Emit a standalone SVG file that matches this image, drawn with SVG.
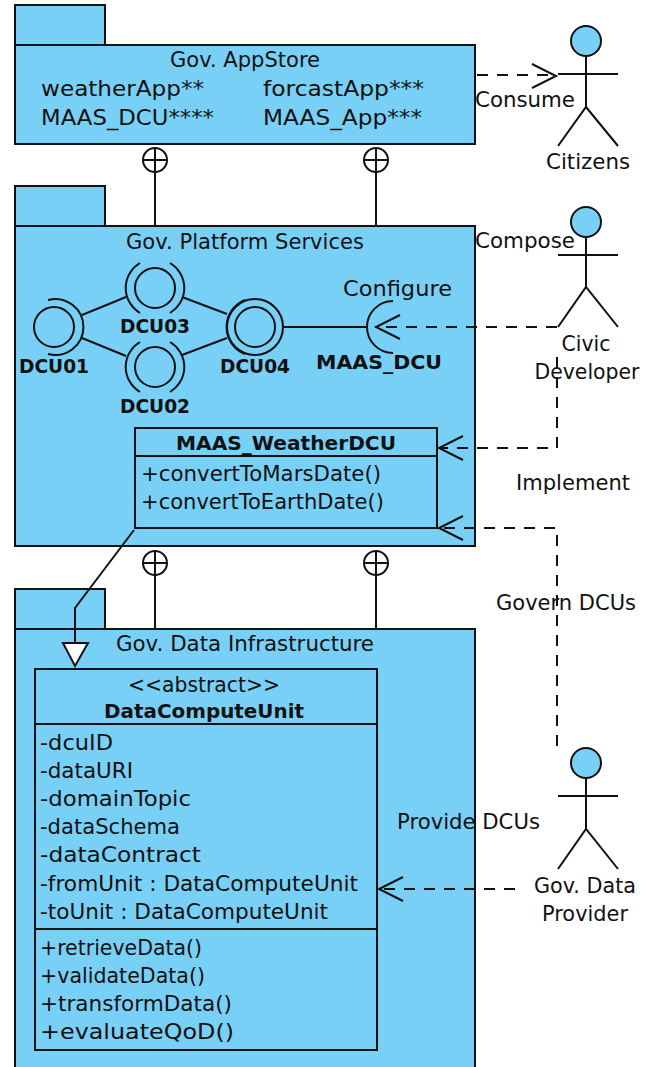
<svg xmlns="http://www.w3.org/2000/svg" width="650" height="1067" viewBox="0 0 650 1067">
<style>
text{font-family:"DejaVu Sans","Liberation Sans",sans-serif;font-size:22px;fill:#111}
.m{text-anchor:middle}
.b{font-weight:bold;font-size:20px}
.s{fill:#79d0f7;stroke:#111;stroke-width:2}
.l{fill:none;stroke:#111;stroke-width:2}
.d{fill:none;stroke:#111;stroke-width:2;stroke-dasharray:11 9}
</style>
<rect width="650" height="1067" fill="#fff"/>
<g id="pkg-appstore">
<rect class="s" x="15" y="5" width="90" height="40"/><rect class="s" x="15" y="45" width="460" height="99"/>
<text class="m" x="245" y="67" textLength="150" lengthAdjust="spacingAndGlyphs">Gov. AppStore</text>
<text x="41" y="96" textLength="163" lengthAdjust="spacingAndGlyphs">weatherApp**</text><text x="263" y="96" textLength="161" lengthAdjust="spacingAndGlyphs">forcastApp***</text>
<text x="41" y="125" textLength="173" lengthAdjust="spacingAndGlyphs">MAAS_DCU****</text><text x="263" y="125" textLength="159" lengthAdjust="spacingAndGlyphs">MAAS_App***</text>
</g>
<g id="pkg-platform">
<rect class="s" x="15" y="186" width="90" height="40"/><rect class="s" x="15" y="226" width="460" height="320"/>
<text class="m" x="245" y="249" textLength="238" lengthAdjust="spacingAndGlyphs">Gov. Platform Services</text>
<text x="343" y="296" textLength="109" lengthAdjust="spacingAndGlyphs">Configure</text>
</g>
<g id="pkg-data">
<rect class="s" x="15" y="589" width="90" height="40"/><rect class="s" x="15" y="629" width="460" height="445"/>
<text class="m" x="245" y="651" textLength="258" lengthAdjust="spacingAndGlyphs">Gov. Data Infrastructure</text>
</g>
<g id="dcu01"><circle class="l" cx="54" cy="327" r="20"/><path class="l" d="M48 300A28 28 0 1 1 48 354"/><text class="b m" x="54" y="373" textLength="70" lengthAdjust="spacingAndGlyphs">DCU01</text></g>
<g id="dcu03"><circle class="l" cx="155" cy="288" r="20"/><path class="l" d="M140 263A29 29 0 0 0 140 313M170 263A29 29 0 0 1 170 313"/><text class="b m" x="155" y="333" textLength="70" lengthAdjust="spacingAndGlyphs">DCU03</text></g>
<g id="dcu02"><circle class="l" cx="155" cy="367" r="20"/><path class="l" d="M140 342A29 29 0 0 0 140 392M170 342A29 29 0 0 1 170 392"/><text class="b m" x="155" y="413" textLength="70" lengthAdjust="spacingAndGlyphs">DCU02</text></g>
<g id="dcu04"><circle class="l" cx="255" cy="327" r="20"/><circle class="l" cx="255" cy="327" r="28"/><path class="l" d="M245 354A29 29 0 0 1 245 300"/><text class="b m" x="255" y="373" textLength="70" lengthAdjust="spacingAndGlyphs">DCU04</text></g>
<g id="maas-dcu"><path class="l" d="M393 301A26 26 0 0 0 393 353"/><text class="b" x="316" y="369" textLength="126" lengthAdjust="spacingAndGlyphs">MAAS_DCU</text></g>
<g id="maas-weather">
<rect class="s" x="135" y="428" width="302" height="100"/><path class="l" d="M135 456H437"/>
<text class="b m" x="286" y="450" textLength="220" lengthAdjust="spacingAndGlyphs">MAAS_WeatherDCU</text>
<text x="141" y="481" textLength="240" lengthAdjust="spacingAndGlyphs">+convertToMarsDate()</text>
<text x="141" y="509" textLength="243" lengthAdjust="spacingAndGlyphs">+convertToEarthDate()</text>
</g>
<g id="dcu-class">
<rect class="s" x="35" y="669" width="342" height="381"/><path class="l" d="M35 724H377M35 929H377"/>
<text class="m" x="204" y="692" textLength="152" lengthAdjust="spacingAndGlyphs">&lt;&lt;abstract&gt;&gt;</text>
<text class="b m" x="204" y="718" textLength="200" lengthAdjust="spacingAndGlyphs">DataComputeUnit</text>
<text x="40" y="750" textLength="73" lengthAdjust="spacingAndGlyphs">-dcuID</text>
<text x="40" y="778" textLength="93" lengthAdjust="spacingAndGlyphs">-dataURI</text>
<text x="40" y="806" textLength="151" lengthAdjust="spacingAndGlyphs">-domainTopic</text>
<text x="40" y="834" textLength="140" lengthAdjust="spacingAndGlyphs">-dataSchema</text>
<text x="40" y="862" textLength="161" lengthAdjust="spacingAndGlyphs">-dataContract</text>
<text x="40" y="891" textLength="318" lengthAdjust="spacingAndGlyphs">-fromUnit : DataComputeUnit</text>
<text x="40" y="919" textLength="288" lengthAdjust="spacingAndGlyphs">-toUnit : DataComputeUnit</text>
<text x="40" y="955" textLength="162" lengthAdjust="spacingAndGlyphs">+retrieveData()</text>
<text x="40" y="983" textLength="165" lengthAdjust="spacingAndGlyphs">+validateData()</text>
<text x="40" y="1011" textLength="192" lengthAdjust="spacingAndGlyphs">+transformData()</text>
<text x="40" y="1039" textLength="194" lengthAdjust="spacingAndGlyphs">+evaluateQoD()</text>
</g>
<g id="actor-citizens"><circle class="s" cx="586" cy="41" r="15"/><path class="l" d="M586 56V107M558 74H618M558 146L586 107L618 146"/><text class="m" x="588" y="169" textLength="84" lengthAdjust="spacingAndGlyphs">Citizens</text></g>
<g id="actor-civic"><circle class="s" cx="586" cy="222" r="15"/><path class="l" d="M586 237V287M558 255H618M558 327L586 287L618 327"/><text class="m" x="586" y="351" textLength="49" lengthAdjust="spacingAndGlyphs">Civic</text><text class="m" x="587" y="379" textLength="105" lengthAdjust="spacingAndGlyphs">Developer</text></g>
<g id="actor-provider"><circle class="s" cx="586" cy="763" r="15"/><path class="l" d="M586 778V829M558 796H618M558 869L586 829L618 869"/><text class="m" x="585" y="893" textLength="102" lengthAdjust="spacingAndGlyphs">Gov. Data</text><text class="m" x="585" y="921" textLength="86" lengthAdjust="spacingAndGlyphs">Provider</text></g>
<g id="connectors">
<path class="l" d="M155 148V226M143 160H167M376 148V226M364 160H388M155 551V629M143 563H167M376 551V629M364 563H388"/>
<circle class="l" cx="155" cy="160" r="12"/><circle class="l" cx="376" cy="160" r="12"/><circle class="l" cx="155" cy="563" r="12"/><circle class="l" cx="376" cy="563" r="12"/>
<path class="l" d="M82 315L126 297M82 338L126 356M182 297L227 314M182 355L227 338M284 327H367"/>
<path class="d" d="M477 75H555"/><path class="l" d="M532 64L556 76L532 88"/>
<path class="d" d="M557 327H378"/><path class="l" d="M400 315L376 327L400 339"/>
<path class="d" d="M557 357V448H441"/><path class="l" d="M463 436L439 448L463 460"/>
<path class="d" d="M557 746V528H441"/><path class="l" d="M463 516L439 528L463 540"/>
<path class="d" d="M515 889H381"/><path class="l" d="M403 877L379 889L403 901"/>
<path class="l" d="M134 530L75 608V643"/><path d="M63 643H88L75 666Z" fill="#fff" stroke="#111" stroke-width="2"/>
</g>
<g id="labels">
<text x="475" y="107" textLength="100" lengthAdjust="spacingAndGlyphs">Consume</text>
<text x="475" y="248" textLength="100" lengthAdjust="spacingAndGlyphs">Compose</text>
<text x="516" y="490" textLength="114" lengthAdjust="spacingAndGlyphs">Implement</text>
<text x="496" y="610" textLength="140" lengthAdjust="spacingAndGlyphs">Govern DCUs</text>
<text x="397" y="829" textLength="143" lengthAdjust="spacingAndGlyphs">Provide DCUs</text>
</g>
</svg>
